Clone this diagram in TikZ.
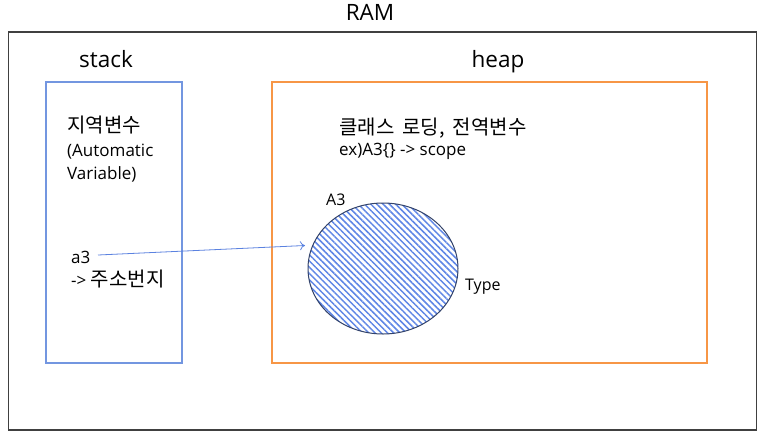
\documentclass[tikz,border=0pt]{standalone}
\usepackage{fontspec}
\setmainfont{Open Sans}
\newfontfamily\kr[WordSpace=1.8]{Noto Sans CJK KR}
\usetikzlibrary{patterns,patterns.meta,arrows.meta,shapes.geometric}
\definecolor{ramgray}{HTML}{404040}
\definecolor{stackblue}{HTML}{7396E0}
\definecolor{heaporange}{HTML}{F79646}
\definecolor{hatchblue}{HTML}{5F86E6}
\definecolor{circborder}{HTML}{33436B}
\definecolor{arrowblue}{HTML}{5B82E0}
\tikzset{
  lbl/.style={inner sep=0pt, anchor=base west, font=\fontsize{17}{20}\selectfont},
  title/.style={inner sep=0pt, anchor=base, font=\fontsize{22.5}{26}\selectfont},
  kor/.style={inner sep=0pt, anchor=base west, font=\kr\fontsize{20}{24}\selectfont},
}
\begin{document}
\begin{tikzpicture}[x=1pt,y=-1pt]
\useasboundingbox (0,0) rectangle (766,437);
\fill[white] (0,0) rectangle (766,437);
% boxes
\node[draw=ramgray, line width=1.6pt, minimum width=748pt, minimum height=398pt, inner sep=0pt] (ram) at (382.5,231) {};
\node[draw=stackblue, line width=1.1pt, minimum width=136pt, minimum height=281pt, inner sep=0pt] (stack) at (114,222.5) {};
\node[draw=heaporange, line width=1.3pt, minimum width=435pt, minimum height=281pt, inner sep=0pt] (heap) at (489.5,222.5) {};
% titles
\node[title] (ramt) at (370,20) {RAM};
\node[title] (stackt) at (106,67) {stack};
\node[title] (heapt) at (498,67) {heap};
% stack texts
\node[kor] (loc) at (67,132) {지역변수};
\node[lbl] (auto1) at (67,156) {(Automatic};
\node[lbl] (auto2) at (67,179) {Variable)};
\node[lbl] (a3) at (71,263) {a3};
\node[lbl] (addr) at (71,286) {-> {\kr\fontsize{20}{24}\selectfont 주소번지}};
% heap texts
\node[kor] (cls) at (339,134) {클래스 로딩, 전역변수};
\node[lbl] (ex) at (339,155) {ex)A3\{\} -> scope};
% object
\node[draw=circborder, line width=1pt, ellipse, minimum width=150pt, minimum height=131pt, inner sep=0pt,
      pattern color=hatchblue, pattern={Lines[angle=-45,distance=4.4pt,line width=1.5pt]}] (obj) at (383,268.5) {};
\node[lbl, font=\fontsize{16}{19}\selectfont] (a3l) at (326,205) {A3};
\node[lbl, font=\fontsize{16}{19}\selectfont] (type) at (465,290) {Type};
% arrow
\coordinate (astart) at (98,255);
\coordinate (aend) at (305,245.5);
\draw[arrowblue, line width=0.8pt, -{To[length=5pt,width=9pt]}] (astart) -- (aend);
\end{tikzpicture}
\end{document}
